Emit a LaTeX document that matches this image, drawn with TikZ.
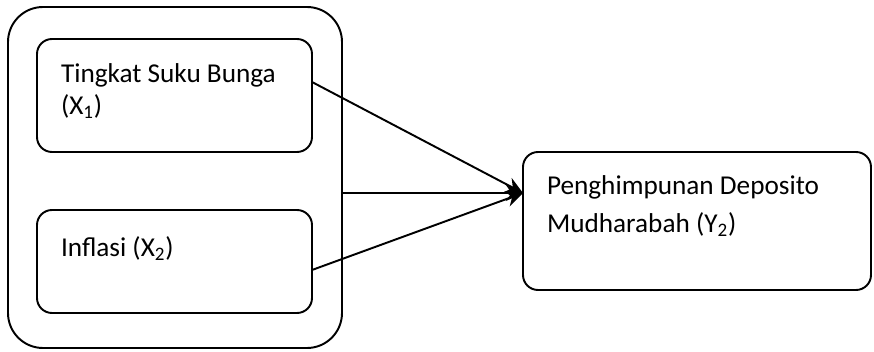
\documentclass[tikz,border=0pt]{standalone}
\usepackage{fontspec}
\setmainfont{Carlito}
\usetikzlibrary{arrows.meta, positioning}

\begin{document}
\begin{tikzpicture}[line width=1.1pt,
    every node/.style={font=\fontsize{15.5}{18}\selectfont, outer sep=0pt},
    varbox/.style={draw, rounded corners=0.3cm, inner sep=0pt, anchor=north west},
    lbl/.style={align=left, inner sep=0pt},
    arr/.style={-{Stealth[length=0.34cm, width=0.32cm]}}]
        \useasboundingbox (0,0) rectangle (17.48,7.04);
        \node[draw, rounded corners=0.7cm, inner sep=0pt, minimum width=6.68cm, minimum height=6.82cm, anchor=south west] (grp) at (0.16,0.08) {};
        \node[varbox, minimum width=5.5cm, minimum height=2.26cm] (x1) at (0.74,6.26) {};
        \node[varbox, minimum width=5.5cm, minimum height=2.06cm] (x2) at (0.74,2.84) {};
        \node[varbox, minimum width=6.96cm, minimum height=2.76cm] (y) at (10.46,4.0) {};
        \node[lbl, below right=0.5cm and 0.48cm of x1.north west] (t1) {Tingkat Suku Bunga\\(X\textsubscript{1})};
        \node[lbl, below right=0.54cm and 0.48cm of x2.north west] (t2) {Inflasi (X\textsubscript{2})};
        \node[lbl, below right=0.48cm and 0.48cm of y.north west] (ty) {Penghimpunan Deposito\\[3.5pt]Mudharabah (Y\textsubscript{2})};
        \coordinate (tip) at ([yshift=0.56cm]y.west);
        \draw[arr] ([yshift=0.27cm]x1.east) -- (tip);
        \draw[arr] ([yshift=-0.31cm]grp.east) -- (tip);
        \draw[arr] ([yshift=-0.17cm]x2.east) -- (tip);
    \end{tikzpicture}
\end{document}
